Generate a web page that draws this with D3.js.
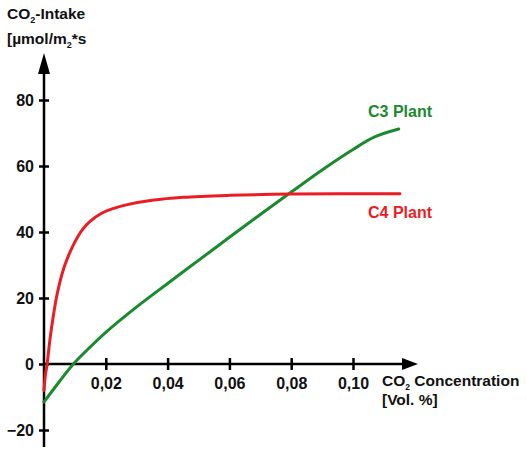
<!DOCTYPE html>
<html>
<head>
<meta charset="utf-8">
<script src="https://cdn.jsdelivr.net/npm/d3@7"></script>
<style>
  html, body { margin: 0; padding: 0; background: #fff; }
  svg { display: block; font-family: "Liberation Sans", Arial, Helvetica, sans-serif; }
</style>
</head>
<body>
<svg id="chart" width="527" height="450"></svg>
<script>
// ---- data ----
const concTicks = [0.02, 0.04, 0.06, 0.08, 0.10];
const intakeTicks = [-20, 0, 20, 40, 60, 80];

const c4Conc   = [0, 0.0005, 0.001, 0.002, 0.003, 0.004, 0.005, 0.0065, 0.008, 0.01, 0.0125, 0.015, 0.0185, 0.022, 0.027, 0.035, 0.045, 0.06, 0.08, 0.1152];
const c4Intake = [-8, -3, 0, 8, 14.5, 20, 24.3, 29.3, 33, 37, 40.8, 43.3, 45.6, 47, 48.3, 49.6, 50.5, 51.1, 51.5, 51.6];

const c3Conc   = [0, 0.005, 0.0095, 0.015, 0.02, 0.03, 0.04, 0.05, 0.06, 0.07, 0.08, 0.09, 0.1, 0.107, 0.1148];
const c3Intake = [-11.5, -5.3, 0, 5.2, 9.6, 17.3, 24.4, 31.4, 38.4, 45.3, 52.1, 58.8, 65.0, 68.8, 71.2];

const seriesNames = ["C3 Plant", "C4 Plant"];

// ---- drawing ----
const svg = d3.select("#chart");
const x = d3.scaleLinear().domain([0, 0.10]).range([44, 353]);
const y = d3.scaleLinear().domain([0, 80]).range([364, 100]);

const red = "#ec1c24", green = "#1a8a2c";
const x0 = x(0), y0 = y(0);

// axes
const yAxis = d3.axisLeft(y).tickValues(intakeTicks).tickSizeOuter(0).tickSizeInner(5).tickPadding(7);
const gy = svg.append("g").attr("transform", `translate(${x0},0)`).call(yAxis);
gy.select(".domain").remove();
gy.selectAll(".tick line").attr("x1", 5).attr("x2", -5).attr("stroke", "#000").attr("stroke-width", 2.5);
gy.selectAll(".tick text").attr("font-size", 16).attr("font-weight", "bold").attr("fill", "#111").attr("x", -10).attr("dy", "0.34em");

const xAxis = d3.axisBottom(x).tickValues(concTicks).tickSizeOuter(0).tickSizeInner(6)
  .tickFormat(d => d.toFixed(2).replace(".", ","));
const gx = svg.append("g").attr("transform", `translate(0,${y0})`).call(xAxis);
gx.select(".domain").remove();
gx.selectAll(".tick line").attr("y1", -6).attr("y2", 6).attr("stroke", "#000").attr("stroke-width", 2.5);
gx.selectAll(".tick text").attr("font-size", 16).attr("font-weight", "bold").attr("fill", "#111").attr("y", 14).attr("dy", "0.71em");

// axis lines with arrows
svg.append("line").attr("x1", x0).attr("x2", x0).attr("y1", 447).attr("y2", 70)
  .attr("stroke", "#000").attr("stroke-width", 2.5);
svg.append("path").attr("d", `M${x0},53 L${x0 - 6},74 L${x0 + 6},74 Z`).attr("fill", "#000");
svg.append("line").attr("x1", x0).attr("x2", 405).attr("y1", y0).attr("y2", y0)
  .attr("stroke", "#000").attr("stroke-width", 2.5);
svg.append("path").attr("d", `M418,${y0} L402,${y0 - 6} L402,${y0 + 6} Z`).attr("fill", "#000");

// curves
const line = d3.line().x(d => x(d[0])).y(d => y(d[1])).curve(d3.curveCatmullRom.alpha(0.5));
const c4 = c4Conc.map((c, i) => [c, c4Intake[i]]);
const c3 = c3Conc.map((c, i) => [c, c3Intake[i]]);
svg.append("path").attr("d", line(c3)).attr("fill", "none").attr("stroke", green).attr("stroke-width", 3).attr("stroke-linecap", "round");
svg.append("path").attr("d", line(c4)).attr("fill", "none").attr("stroke", red).attr("stroke-width", 3).attr("stroke-linecap", "round");

// series labels
svg.append("text").attr("x", 368).attr("y", 117).attr("font-size", 16).attr("font-weight", "bold").attr("fill", green).text(seriesNames[0]);
svg.append("text").attr("x", 368).attr("y", 218).attr("font-size", 16).attr("font-weight", "bold").attr("fill", red).text(seriesNames[1]);

// y-axis title
const t1 = svg.append("text").attr("x", 7).attr("y", 19).attr("font-size", 15.5).attr("font-weight", "bold").attr("fill", "#111");
t1.append("tspan").text("CO");
t1.append("tspan").attr("font-size", 9).attr("dy", 4).text("2");
t1.append("tspan").attr("dy", -4).text("-Intake");
const t2 = svg.append("text").attr("x", 7).attr("y", 44).attr("font-size", 15.5).attr("font-weight", "bold").attr("fill", "#111");
t2.append("tspan").text("[µmol/m");
t2.append("tspan").attr("font-size", 9).attr("dy", 4).text("2");
t2.append("tspan").attr("dy", -4).text("*s");

// x-axis title
const t3 = svg.append("text").attr("x", 382).attr("y", 386).attr("font-size", 15.5).attr("font-weight", "bold").attr("fill", "#111");
t3.append("tspan").text("CO");
t3.append("tspan").attr("font-size", 8.5).attr("dy", 4).text("2");
t3.append("tspan").attr("dy", -4).text(" Concentration");
svg.append("text").attr("x", 382).attr("y", 405).attr("font-size", 15.5).attr("font-weight", "bold").attr("fill", "#111").text("[Vol. %]");
</script>
</body>
</html>
